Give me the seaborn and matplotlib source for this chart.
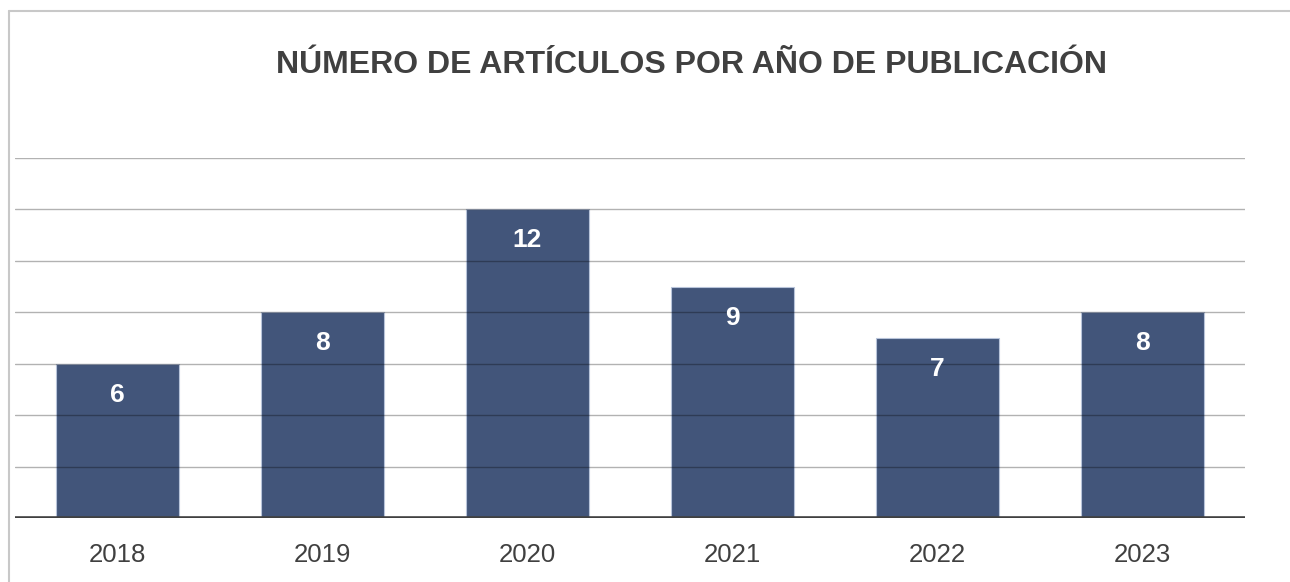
import matplotlib
matplotlib.use("Agg")
import matplotlib.pyplot as plt
import seaborn as sns
import pandas as pd
from matplotlib.lines import Line2D

# data
years = ["2018", "2019", "2020", "2021", "2022", "2023"]
articles = [6, 8, 12, 9, 7, 8]
title = "NÚMERO DE ARTÍCULOS POR AÑO DE PUBLICACIÓN"

df = pd.DataFrame({"year": years, "n": articles})

sns.set_theme(style="white")
plt.rcParams["font.family"] = ["Liberation Sans", "DejaVu Sans"]

W, H = 1290, 582
fig = plt.figure(figsize=(W / 100, H / 100), dpi=100)
ax = fig.add_axes([15 / W, 64 / H, (1245 - 15) / W, (518 - 158) / H])

sns.barplot(data=df, x="year", y="n", color="#42557a", saturation=1,
            width=0.6, edgecolor="#b8c4da", linewidth=0.8, zorder=2, ax=ax)

# translucent gridlines: gray on white, a darker streak across the bars
for yv in range(2, 15, 2):
    ax.axhline(yv, color="black", alpha=0.3, lw=1.0, zorder=3)

ax.set_ylim(0, 14)
ax.set_xlim(-0.5, len(years) - 0.5)
ax.axhline(0, color="#404040", lw=2.6, zorder=4)

for c in ax.containers:
    ax.bar_label(c, labels=[str(v) for v in articles], label_type="edge",
                 padding=-31, color="white", fontsize=19, fontweight="bold")

ax.set_yticks([])
ax.set_xlabel("")
ax.set_ylabel("")
ax.tick_params(axis="x", length=0, labelsize=18.5, labelcolor="#404040", pad=18)
sns.despine(ax=ax, left=True, bottom=True)

fig.text(691 / W, 1 - 65 / H, title, ha="center", va="center",
         fontsize=23, fontweight="bold", color="#404040")

# outer frame (left and top edges visible)
fig.add_artist(Line2D([9 / W, 9 / W], [0, 1 - 11 / H], transform=fig.transFigure,
                      color="#c8c8c8", lw=1.5))
fig.add_artist(Line2D([9 / W, 1], [1 - 11 / H, 1 - 11 / H], transform=fig.transFigure,
                      color="#c8c8c8", lw=1.5))

fig.savefig("out.png", dpi=100)
